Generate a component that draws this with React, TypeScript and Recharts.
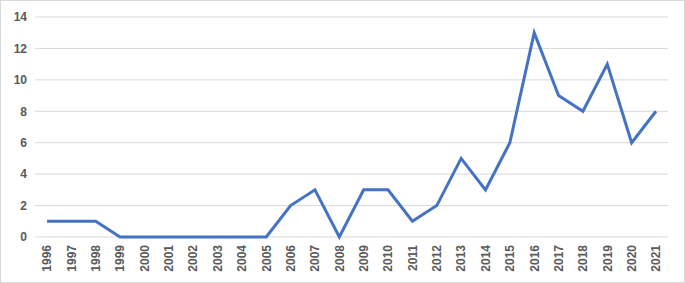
import { LineChart, Line, XAxis, YAxis, CartesianGrid } from 'recharts';

const years = [
  '1996', '1997', '1998', '1999', '2000', '2001', '2002', '2003', '2004', '2005', '2006', '2007', '2008',
  '2009', '2010', '2011', '2012', '2013', '2014', '2015', '2016', '2017', '2018', '2019', '2020', '2021',
];
const counts = [1, 1, 1, 0, 0, 0, 0, 0, 0, 0, 2, 3, 0, 3, 3, 1, 2, 5, 3, 6, 13, 9, 8, 11, 6, 8];
const yTicks = [0, 2, 4, 6, 8, 10, 12, 14];

const data = years.map((year, i) => ({ year, value: counts[i] }));

const FONT = '"Liberation Sans", Arial, sans-serif';
const TEXT = '#595959';

function YearTick({ x, y, payload }: any) {
  return (
    <g transform={`translate(${x},${y})`}>
      <text
        transform="rotate(-90)"
        textAnchor="end"
        dy="0.36em"
        fill={TEXT}
        fontSize={12}
        fontWeight="bold"
        fontFamily={FONT}
      >
        {payload.value}
      </text>
    </g>
  );
}

export default function App() {
  return (
    <div
      style={{
        position: 'fixed',
        left: 0,
        top: 0,
        width: 685,
        height: 283,
        boxSizing: 'border-box',
        border: '1px solid #d9d9d9',
        background: '#fff',
      }}
    >
      <LineChart width={683} height={281} data={data} margin={{ top: 16, right: 16, bottom: 0, left: 0 }}>
        <CartesianGrid vertical={false} stroke="#d9d9d9" strokeWidth={1} />
        <XAxis
          dataKey="year"
          interval={0}
          axisLine={false}
          tickLine={false}
          tickSize={0}
          tickMargin={8}
          height={45}
          padding={{ left: 12, right: 12 }}
          tick={<YearTick />}
        />
        <YAxis
          domain={[0, 14]}
          ticks={yTicks}
          width={34}
          axisLine={false}
          tickLine={false}
          tickSize={0}
          tickMargin={8}
          tick={{ fill: TEXT, fontSize: 12, fontWeight: 'bold', fontFamily: FONT }}
        />
        <Line
          type="linear"
          dataKey="value"
          stroke="#4472C4"
          strokeWidth={3}
          dot={false}
          isAnimationActive={false}
        />
      </LineChart>
    </div>
  );
}
